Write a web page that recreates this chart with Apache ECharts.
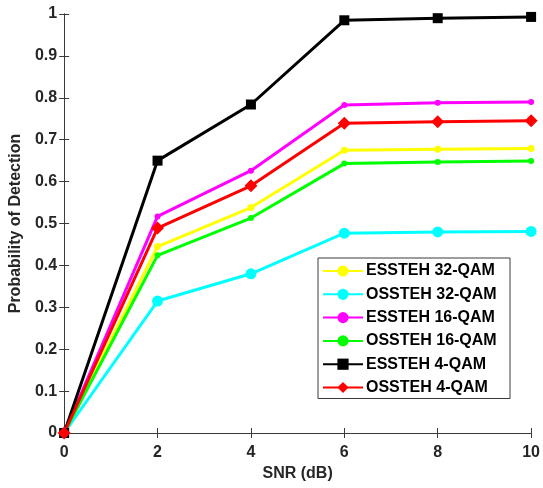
<!DOCTYPE html>
<html><head><meta charset="utf-8">
<script src="https://cdn.jsdelivr.net/npm/echarts@6/dist/echarts.min.js"></script>
<style>html,body{margin:0;padding:0;background:#fff}#c{width:543px;height:488px}</style>
</head><body><div id="c"></div>
<script>
const snr = [0, 2, 4, 6, 8, 10];
const essteh32 = [0, 0.445, 0.538, 0.675, 0.677, 0.679];
const ossteh32 = [0, 0.315, 0.380, 0.477, 0.480, 0.481];
const essteh16 = [0, 0.517, 0.626, 0.783, 0.788, 0.790];
const ossteh16 = [0, 0.424, 0.513, 0.643, 0.647, 0.649];
const essteh4 = [0, 0.650, 0.784, 0.985, 0.990, 0.993];
const ossteh4 = [0, 0.489, 0.590, 0.739, 0.743, 0.745];
const yTicks = [0, 0.1, 0.2, 0.3, 0.4, 0.5, 0.6, 0.7, 0.8, 0.9, 1];

const seriesDefs = [
  {name: 'ESSTEH 32-QAM', data: essteh32, color: '#FFFF00', symbol: 'circle', size: 7},
  {name: 'OSSTEH 32-QAM', data: ossteh32, color: '#00FFFF', symbol: 'circle', size: 11},
  {name: 'ESSTEH 16-QAM', data: essteh16, color: '#FF00FF', symbol: 'circle', size: 6},
  {name: 'OSSTEH 16-QAM', data: ossteh16, color: '#00FF00', symbol: 'circle', size: 6},
  {name: 'ESSTEH 4-QAM', data: essteh4, color: '#000000', symbol: 'rect', size: 10},
  {name: 'OSSTEH 4-QAM', data: ossteh4, color: '#FF0000', symbol: 'diamond', size: 13}
];

const axisCol = '#3a3a3a';
const txtCol = '#262626';
const lblStyle = {color: txtCol, fontWeight: 'bold', fontSize: 16, fontFamily: 'Liberation Sans, Arial, sans-serif'};

const chart = echarts.init(document.getElementById('c'), null, {renderer: 'canvas'});
chart.setOption({
  animation: false,
  backgroundColor: '#fff',
  grid: {left: 61, right: 11, top: 14, bottom: 55, containLabel: false},
  legend: {
    orient: 'vertical', left: 318, top: 258,
    padding: [5, 5, 3, 4], itemGap: 7.3, itemWidth: 40, itemHeight: 14,
    borderColor: axisCol, borderWidth: 1, backgroundColor: '#fff',
    textStyle: {color: '#000', fontWeight: 'bold', fontSize: 16, lineHeight: 16, width: 139,
      fontFamily: 'Liberation Sans, Arial, sans-serif', padding: [0,0,0,-2]},
    data: seriesDefs.map(s => s.name)
  },
  xAxis: [{
    type: 'value', min: 0, max: 10, interval: 2,
    name: 'SNR (dB)', nameLocation: 'middle', nameGap: 32,
    nameTextStyle: lblStyle,
    axisLine: {show: true, lineStyle: {color: axisCol, width: 1}},
    axisTick: {show: true, inside: true, length: 5, lineStyle: {color: axisCol}},
    axisLabel: Object.assign({margin: 12}, lblStyle),
    splitLine: {show: false}
  }, {
    type: 'value', min: 0, max: 10, interval: 2, position: 'top',
    axisLine: {show: true, lineStyle: {color: axisCol, width: 1}},
    axisTick: {show: true, inside: true, length: 5, lineStyle: {color: axisCol}},
    axisLabel: {show: false}, splitLine: {show: false}
  }],
  yAxis: [{
    type: 'value', min: 0, max: 1, interval: 0.1,
    name: 'Probability of Detection', nameLocation: 'middle', nameGap: 37,
    nameTextStyle: lblStyle,
    axisLine: {show: true, lineStyle: {color: axisCol, width: 1}},
    axisTick: {show: true, inside: true, length: 5, lineStyle: {color: axisCol}},
    axisLabel: Object.assign({margin: 7, formatter: v => String(Math.round(v * 10) / 10)}, lblStyle),
    splitLine: {show: false}
  }, {
    type: 'value', min: 0, max: 1, interval: 0.1, position: 'right',
    axisLine: {show: true, lineStyle: {color: axisCol, width: 1}},
    axisTick: {show: true, inside: true, length: 5, lineStyle: {color: axisCol}},
    axisLabel: {show: false}, splitLine: {show: false}
  }],
  series: seriesDefs.map(s => ({
    name: s.name, type: 'line',
    data: s.data.map((v, i) => [snr[i], v]),
    symbol: s.symbol, symbolSize: s.size, showAllSymbol: true,
    lineStyle: {color: s.color, width: 3},
    itemStyle: {color: s.color, borderColor: s.color, borderWidth: 0},
    color: s.color
  }))
});
</script></body></html>
